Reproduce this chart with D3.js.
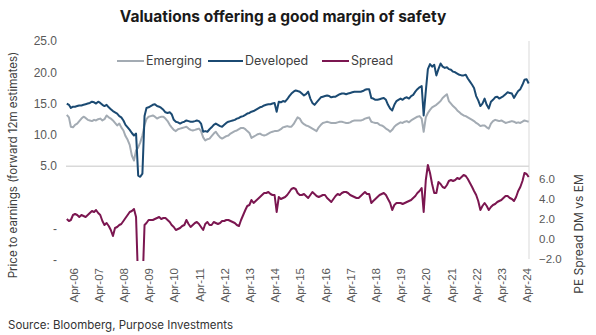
<!DOCTYPE html>
<meta charset="utf-8">
<style>
body { margin: 0; background: #fff; }
svg { font-family: Inter, "Open Sans", sans-serif; }
.tick text { fill: #595959; font-size: 11.5px; }
.y-left .tick text { font-size: 12px; }
.title { font-size: 15.5px; font-weight: 700; fill: #1a1a1a; }
.axis-title { font-size: 11.5px; fill: #404040; }
.axis-title.right { font-size: 12px; }
.legend text { font-size: 12.5px; fill: #404040; }
.source { font-size: 11.5px; fill: #333; }
</style>
<svg width="596" height="335"></svg>
<script src="https://cdn.jsdelivr.net/npm/d3@7"></script>
<script>

// monthly points, Jan 2006 .. May 2024
var firstMonth = new Date(2006, 0, 1),
    lastMonth = new Date(2024, 4, 1);

var developed = [
  15.0,14.8,14.3,14.5,14.5,14.6,14.7,14.7,14.8,14.9,15.0,15.1,
  15.3,15.2,15.0,15.3,15.1,14.8,14.6,14.8,14.4,14.1,13.8,13.6,
  13.4,13.0,12.8,12.3,11.6,11.2,10.8,10.3,9.9,10.2,3.5,3.3,
  3.8,13.0,14.3,14.4,14.6,14.8,14.9,14.6,14.5,14.3,14.0,13.6,
  13.5,13.6,13.3,12.4,12.1,12.0,11.8,12.0,12.1,12.3,12.2,12.1,
  12.1,12.2,12.3,12.2,11.8,10.5,10.6,10.5,10.9,11.2,11.6,11.8,
  11.6,11.4,11.3,11.6,11.9,12.1,12.2,12.3,12.4,12.6,12.7,12.9,
  13.0,13.2,13.4,13.5,13.7,13.8,14.0,14.2,14.4,14.5,14.7,14.8,
  14.9,14.9,15.0,15.1,13.7,15.3,15.2,15.4,15.3,15.7,16.2,16.6,
  16.9,17.1,17.0,16.9,16.6,16.3,16.5,16.9,15.8,15.1,14.8,15.2,
  15.6,16.0,16.1,16.2,16.3,16.2,16.0,16.1,16.1,16.3,16.5,16.6,
  16.6,16.5,16.6,16.7,16.8,16.9,16.9,16.9,16.9,17.0,17.2,17.3,
  17.3,15.9,15.8,15.6,15.6,15.7,15.8,15.9,15.6,14.8,14.2,13.9,
  14.8,15.4,15.6,15.8,15.6,15.9,16.0,15.8,16.2,16.4,16.9,17.3,
  17.6,17.8,13.1,17.0,20.5,21.3,20.9,21.2,19.5,20.5,21.4,20.9,
  20.7,20.8,20.5,20.4,20.1,20.0,19.8,19.6,19.5,19.5,19.6,19.0,
  18.5,18.0,17.5,16.2,15.5,14.6,15.0,15.8,14.8,14.2,15.3,15.6,
  16.0,16.1,15.8,16.0,16.2,16.5,16.8,16.7,16.6,15.9,16.5,17.0,
  17.3,18.0,18.8,18.9,18.2
];

var emerging = [
  13.2,12.8,11.3,11.2,11.6,11.8,12.2,12.6,12.9,12.7,12.4,12.3,
  12.2,12.4,12.3,12.5,12.6,12.3,12.5,13.1,12.8,12.6,12.3,11.9,
  11.5,11.8,11.2,10.7,9.8,9.2,8.4,6.7,5.9,7.5,8.0,8.8,
  9.9,11.6,12.5,12.9,13.0,13.1,12.9,12.6,12.8,12.9,12.9,12.6,
  12.2,11.6,11.2,10.8,10.6,10.9,11.0,11.1,11.2,11.3,11.0,10.8,
  10.7,10.8,10.9,11.0,10.6,9.6,9.1,9.3,9.4,9.8,10.2,10.5,
  10.0,9.6,9.4,9.6,9.8,9.9,10.2,10.4,10.6,10.7,10.9,11.1,
  11.1,10.9,10.6,10.3,9.5,9.7,9.9,10.1,10.2,10.0,9.9,10.0,
  10.2,10.4,10.5,10.6,10.6,10.7,10.9,11.2,11.3,11.4,11.3,11.3,
  11.7,12.3,12.8,12.6,12.0,11.7,11.5,11.4,11.2,11.0,10.8,10.6,
  11.2,11.6,11.9,12.0,12.1,12.0,11.9,11.9,11.9,12.0,12.1,12.1,
  12.0,11.9,11.9,12.0,12.2,12.3,12.3,12.3,12.3,12.4,12.6,12.7,
  12.8,12.1,12.0,11.9,11.9,11.6,11.5,11.3,11.0,10.8,10.5,10.8,
  11.3,11.6,11.8,12.0,11.9,12.1,12.2,12.0,12.3,12.5,12.7,12.9,
  13.0,12.6,10.5,12.8,13.5,14.0,14.4,14.6,14.8,15.1,15.4,15.9,
  16.2,16.5,15.4,15.0,14.6,14.3,13.9,13.6,13.3,13.1,13.0,12.8,
  12.6,12.4,12.2,11.9,11.7,11.4,11.5,11.5,11.2,11.0,11.8,12.2,
  12.4,12.3,12.2,12.3,12.1,11.9,12.0,12.1,12.2,12.1,11.9,12.0,
  11.9,12.1,12.3,12.2,12.1
];

var spread = [
  2.0,1.8,1.9,2.4,2.5,2.4,2.2,2.4,2.3,2.2,2.4,2.6,
  2.8,2.7,2.9,2.6,2.4,1.8,1.4,1.6,1.3,0.9,0.3,1.1,
  1.2,1.4,1.5,1.8,2.1,2.4,2.7,2.8,3.0,2.2,-4.5,-5.5,
  -5.0,1.4,1.6,1.9,1.9,1.9,2.0,2.1,2.2,2.0,2.1,2.1,
  1.9,1.7,1.4,1.2,0.9,1.0,1.1,1.3,1.4,1.9,1.5,1.2,
  1.4,1.6,1.7,1.5,1.2,0.9,1.5,1.7,1.4,1.4,1.7,1.6,
  1.5,1.6,1.8,1.8,1.9,1.9,1.8,1.7,1.6,1.4,1.3,1.9,
  2.4,2.9,3.3,3.4,3.9,3.6,3.8,4.0,4.2,4.4,4.6,4.6,
  4.7,4.5,4.4,4.4,2.7,4.2,4.0,4.1,4.2,4.4,4.7,5.0,
  5.1,5.0,4.6,4.4,4.4,4.5,4.3,4.1,4.4,4.7,4.5,4.3,
  4.2,4.3,4.4,4.4,4.1,3.9,3.7,4.0,4.3,4.5,4.4,4.6,
  4.7,4.7,4.6,4.4,4.3,4.2,4.1,4.1,4.3,4.5,4.7,4.5,
  4.5,3.6,3.8,4.0,4.2,4.4,4.5,4.6,4.4,4.0,3.6,2.9,
  3.4,3.6,3.6,3.6,3.5,3.6,3.7,3.8,3.9,4.1,4.3,4.6,
  4.8,5.1,2.7,5.9,7.4,6.6,5.5,4.6,4.6,5.7,5.5,5.2,
  5.1,5.4,5.8,5.9,5.8,5.9,6.1,6.0,6.2,6.4,6.3,6.0,
  5.6,5.2,4.8,4.4,3.8,2.9,3.3,3.6,3.3,2.9,3.2,3.4,
  3.5,3.7,3.8,3.9,4.1,4.3,4.3,4.1,4.0,3.8,4.2,4.8,
  5.2,5.8,6.6,6.5,6.2
];

var leftTicks = [25, 20, 15, 10, 5, 0, -5, -10],
    rightTicks = [6, 4, 2, 0, -2],
    tickYears = d3.range(2006, 2025);

var seriesNames = ["Emerging", "Developed", "Spread"],
    colors = { Emerging: "#a3abb3", Developed: "#1b4a72", Spread: "#7b1650" };

var svg = d3.select("svg");

var months = d3.timeMonth.range(firstMonth, d3.timeMonth.offset(lastMonth, 1));

var x = d3.scaleTime()
    .domain([new Date(2006, 3, 1), new Date(2024, 3, 1)])
    .range([73, 526.6]);

var yL = d3.scaleLinear().domain([-10, 25]).range([260, 41]);
var yR = d3.scaleLinear().domain([-2, 6]).range([259, 179]);

// clip to plot area
svg.append("defs").append("clipPath").attr("id", "plot")
  .append("rect").attr("x", 60).attr("y", 35).attr("width", 475).attr("height", 226);

// reference lines
svg.append("line")
    .attr("x1", 66).attr("x2", 529)
    .attr("y1", yL(5)).attr("y2", yL(5))
    .attr("stroke", "#d9d9d9").attr("stroke-width", 1.5);
svg.append("line")
    .attr("x1", 529).attr("x2", 529)
    .attr("y1", 41).attr("y2", 259)
    .attr("stroke", "#d9d9d9").attr("stroke-width", 1);

// axes
var fmtL = function(v) { return v > 0 ? v.toFixed(1) : v < 0 ? "-" : ""; };

svg.append("g").attr("class", "y-left")
    .attr("transform", "translate(59,0)")
    .call(d3.axisLeft(yL).tickValues(leftTicks).tickSize(0).tickPadding(2).tickFormat(fmtL))
    .call(function(g) { g.select(".domain").remove(); });

svg.append("g")
    .attr("transform", "translate(529,0)")
    .call(d3.axisRight(yR).tickValues(rightTicks).tickSize(0).tickPadding(10).tickFormat(d3.format(".1f")))
    .call(function(g) { g.select(".domain").remove(); });

var fmtX = d3.timeFormat("%b-%y");
svg.append("g")
    .attr("transform", "translate(0,262)")
    .call(d3.axisBottom(x).tickValues(tickYears.map(function(y) { return new Date(y, 3, 1); })).tickSize(0).tickFormat(fmtX))
    .call(function(g) { g.select(".domain").remove(); })
    .selectAll("text")
      .attr("transform", "rotate(-90)")
      .attr("text-anchor", "end")
      .attr("x", -6)
      .attr("y", 0)
      .attr("dy", "0.35em");

// lines
var lineL = d3.line()
    .x(function(d, i) { return x(months[i]); })
    .y(function(d) { return yL(d); });
var lineR = d3.line()
    .x(function(d, i) { return x(months[i]); })
    .y(function(d) { return yR(d); });

var g = svg.append("g").attr("clip-path", "url(#plot)");
g.append("path").datum(emerging)
    .attr("fill", "none").attr("stroke", colors.Emerging).attr("stroke-width", 2)
    .attr("stroke-linejoin", "round").attr("d", lineL);
g.append("path").datum(developed)
    .attr("fill", "none").attr("stroke", colors.Developed).attr("stroke-width", 2)
    .attr("stroke-linejoin", "round").attr("d", lineL);
g.append("path").datum(spread)
    .attr("fill", "none").attr("stroke", colors.Spread).attr("stroke-width", 2)
    .attr("stroke-linejoin", "round").attr("d", lineR);

// title
svg.append("text").attr("class", "title")
    .attr("x", 283).attr("y", 22).attr("text-anchor", "middle")
    .text("Valuations offering a good margin of safety");

// axis titles
svg.append("text").attr("class", "axis-title")
    .attr("transform", "translate(17,165) rotate(-90)").attr("text-anchor", "middle")
    .text("Price to earnings (forward 12m estimates)");
svg.append("text").attr("class", "axis-title right")
    .attr("transform", "translate(583,234) rotate(-90)").attr("text-anchor", "middle")
    .text("PE Spread DM vs EM");

// legend
var legendX = [117, 208, 322];
var legend = svg.append("g").attr("class", "legend")
  .selectAll("g").data(seriesNames).enter().append("g")
    .attr("transform", function(d, i) { return "translate(" + legendX[i] + ",61)"; });
legend.append("line")
    .attr("x1", 0).attr("x2", function(d, i) { return i == 1 ? 35 : 27; })
    .attr("stroke", function(d) { return colors[d]; }).attr("stroke-width", 2);
legend.append("text")
    .attr("x", function(d, i) { return i == 1 ? 37 : 29; })
    .attr("dy", "0.35em")
    .text(function(d) { return d; });

svg.append("text").attr("class", "source")
    .attr("x", 8).attr("y", 329)
    .text("Source: Bloomberg, Purpose Investments");

</script>
